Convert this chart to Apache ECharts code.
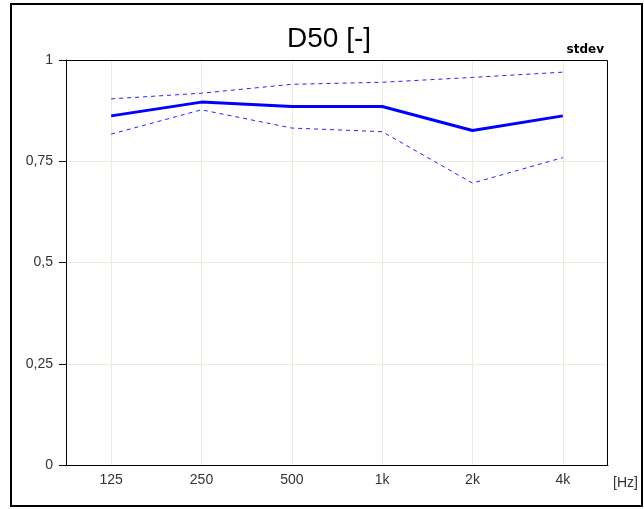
<!DOCTYPE html>
<html>
<head>
<meta charset="utf-8">
<script src="https://cdn.jsdelivr.net/npm/echarts@6/dist/echarts.min.js"></script>
<style>
html,body{margin:0;padding:0;background:#fff;}
#chart{width:644px;height:509px;}
</style>
</head>
<body>
<div id="chart"></div>
<script>
const categories = ['125', '250', '500', '1k', '2k', '4k'];
const meanValues = [0.862, 0.896, 0.885, 0.885, 0.826, 0.862];
const upperValues = [0.904, 0.918, 0.940, 0.945, 0.957, 0.970];
const lowerValues = [0.817, 0.877, 0.832, 0.823, 0.696, 0.759];
const yTickLabels = { 0: '0', 0.25: '0,25', 0.5: '0,5', 0.75: '0,75', 1: '1' };

const chart = echarts.init(document.getElementById('chart'));
const font = 'Liberation Sans, Arial, sans-serif';
const gridCol = '#efe9dc';
chart.setOption({
  animation: false,
  grid: { left: 66, right: 36, top: 60, bottom: 44 },
  graphic: [
    { type: 'rect', shape: { x: 11, y: 4, width: 631, height: 502 }, style: { fill: 'none', stroke: '#000', lineWidth: 2 } },
    { type: 'text', x: 329, y: 39, style: { text: 'D50 [-]', font: '28px ' + font, fill: '#000', textAlign: 'center', textVerticalAlign: 'middle' } },
    { type: 'text', x: 604, y: 50, style: { text: 'stdev', font: 'bold 12px DejaVu Sans, sans-serif', fill: '#000', textAlign: 'right', textVerticalAlign: 'middle' } },
    { type: 'text', x: 613, y: 483, style: { text: '[Hz]', font: '14px ' + font, fill: '#333', textAlign: 'left', textVerticalAlign: 'middle' } },
    { type: 'rect', shape: { x: 66.5, y: 60.5, width: 541, height: 405 }, style: { fill: 'none', stroke: '#000', lineWidth: 1 }, z: 10 }
  ],
  xAxis: {
    type: 'category',
    data: categories,
    boundaryGap: true,
    axisLine: { lineStyle: { color: '#000', width: 1 } },
    axisTick: { alignWithLabel: true, length: 4, lineStyle: { color: '#000' } },
    axisLabel: { fontFamily: font, fontSize: 14, color: '#333', margin: 8 },
    splitLine: { show: false }
  },
  yAxis: {
    type: 'value',
    min: 0, max: 1, interval: 0.25,
    axisLine: { show: true, lineStyle: { color: '#000', width: 1 } },
    axisTick: { show: true, length: 7, lineStyle: { color: '#000' } },
    axisLabel: { fontFamily: font, fontSize: 14, color: '#333', margin: 13,
      formatter: v => yTickLabels[v] !== undefined ? yTickLabels[v] : '' },
    splitLine: { show: true, lineStyle: { color: gridCol, width: 1 } }
  },
  series: [
    { type: 'line', data: upperValues, symbol: 'none', z: 3,
      lineStyle: { color: '#2020ff', width: 1, type: [4, 4] },
      markLine: {
        silent: true, symbol: 'none', label: { show: false }, z: 1,
        lineStyle: { color: gridCol, width: 1, type: 'solid' },
        data: categories.map(c => ({ xAxis: c }))
      }
    },
    { type: 'line', data: lowerValues, symbol: 'none', z: 3, lineStyle: { color: '#2020ff', width: 1, type: [4, 4] } },
    { type: 'line', data: meanValues, symbol: 'none', z: 4, lineStyle: { color: '#0000ff', width: 3 } }
  ]
});
</script>
</body>
</html>
